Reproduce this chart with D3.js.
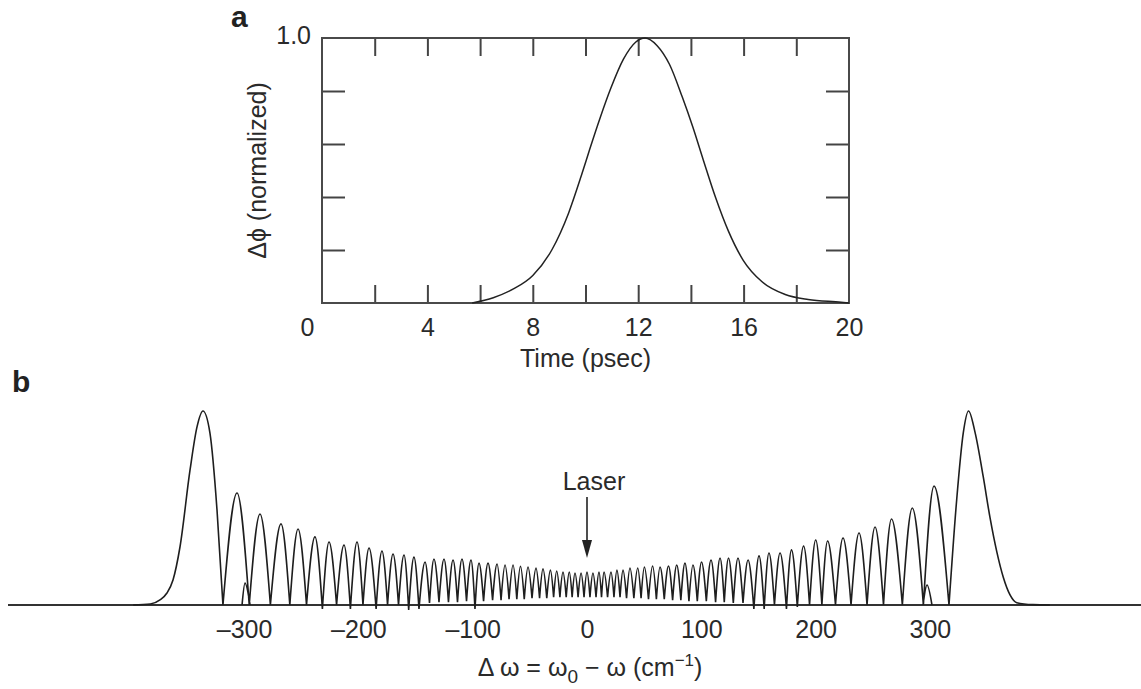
<!DOCTYPE html>
<html>
<head>
<meta charset="utf-8">
<script src="https://cdn.jsdelivr.net/npm/d3@7"></script>
<style>
  body { margin: 0; background: #fff; }
  svg { display: block; font-family: "Liberation Sans", Arial, Helvetica, sans-serif; }
  .tick text { font-size: 25px; fill: #2a2a2a; }
  .lbl { font-size: 25px; fill: #2a2a2a; }
  .panel { font-size: 30px; font-weight: bold; fill: #222; }
</style>
</head>
<body>
<div id="chart"></div>
<script>
// ---- panel a: normalized phase vs time ----
const timePs    = [5.7, 6.5, 7.3, 8.0, 8.72, 9.36, 9.84, 10.16, 10.56, 10.96, 11.44, 11.91, 12.26,
                   12.71, 13.19, 13.67, 14.07, 14.47, 14.94, 15.42, 15.98, 16.7, 17.58, 18.45, 19.7, 20];
const phaseNorm = [0, 0.02, 0.055, 0.104, 0.2, 0.34, 0.48, 0.58, 0.7, 0.81, 0.92, 0.985, 1.0,
                   0.972, 0.9, 0.778, 0.665, 0.54, 0.397, 0.272, 0.162, 0.08, 0.032, 0.013, 0.003, 0];
const xLabelsA = [0, 4, 8, 12, 16, 20];
const xMinorA = [2, 4, 6, 8, 10, 12, 14, 16, 18];
const yMinorA = [0.2, 0.4, 0.6, 0.8];

// ---- panel b: SPM spectrum ----
// outer (largest) lobes
const mainLeftW  = [-397, -382, -373.6, -367.5, -362.2, -356.1, -347.3, -341.2, -336, -329.9, -323.7, -318.5];
const mainLeftI  = [0, 0.005, 0.026, 0.062, 0.129, 0.299, 0.696, 0.918, 1.0, 0.887, 0.49, 0];
const mainRightW = [316.7, 323.4, 329.2, 333.8, 339.5, 346.7, 352.6, 358.5, 364.2, 370.1, 376, 390.2, 405];
const mainRightI = [0, 0.54, 0.887, 1.0, 0.89, 0.66, 0.45, 0.275, 0.143, 0.052, 0.012, 0.002, 0];

// inner peaks
const peakW = [-306.2, -286.1, -267.7, -252.8, -238.0, -225.7, -212.6, -201.2, -190.7, -179.4, -169.7, -160.1,
  -151.4, -141.7, -133.9, -125.1, -117.2, -109.4, -101.5, -94.5, -86.6, -78.7, -71.7, -64.7, -58.2, -51.6,
  -44.6, -38.5, -32, -26.5, -21, -15.5, -10.5, -5.2, 0, 5.2, 10.5, 14.9, 21.0, 26.2, 31.5, 37.6, 44.4, 50.2,
  57.4, 63.9, 71.3, 78.5, 85.7, 92.7, 100.2, 108.5, 116.4, 123.8, 132.1, 140.9, 150.5, 159.2, 168.9, 178.9,
  189.5, 200.1, 210.5, 224, 238, 252, 266.4, 284.6, 303.6];
const peakI = [0.577, 0.469, 0.418, 0.392, 0.351, 0.325, 0.309, 0.325, 0.294, 0.278, 0.263, 0.258,
  0.247, 0.222, 0.237, 0.237, 0.232, 0.237, 0.232, 0.216, 0.216, 0.211, 0.206, 0.206, 0.2, 0.196,
  0.19, 0.186, 0.18, 0.175, 0.17, 0.17, 0.165, 0.165, 0.17, 0.165, 0.17, 0.17, 0.17, 0.18, 0.18, 0.191, 0.191, 0.196,
  0.201, 0.196, 0.201, 0.206, 0.216, 0.206, 0.222, 0.232, 0.242, 0.242, 0.242, 0.232, 0.253, 0.268, 0.268, 0.284,
  0.304, 0.335, 0.33, 0.345, 0.371, 0.402, 0.443, 0.5, 0.613];

// minima between peaks
const valleyW = [-318.5, -295.5, -277, -260, -245.4, -231.5, -219.1, -207, -196, -184.5, -174.5, -164.9, -156,
  -147, -137.8, -129.5, -121.2, -113.3, -105.4, -98, -90.5, -82.6, -75.2, -68.2, -61.4, -54.9, -48.1,
  -41.5, -35.2, -29.2, -23.7, -18.2, -13, -7.8, -2.6, 2.6, 7.9, 12.7, 18, 23.6, 28.9, 34.6, 41, 47.3, 53.8,
  60.7, 67.6, 74.9, 82.1, 89.2, 96.5, 104.4, 112.5, 120.1, 128, 136.5, 146, 155, 164, 174.5, 184,
  194.7, 205.5, 217.4, 231, 245, 259.4, 275.9, 294.3, 316.7];
const valleyI = [0, 0, 0, 0, 0, -0.02, 0, -0.02, 0, -0.02, 0, 0, -0.025,
  -0.02, 0.01, 0.015, 0.015, 0.015, 0.02, -0.02, 0.02, 0.025, 0.025, 0.03, 0.03, 0.03, 0.035,
  0.035, 0.035, 0.04, 0.04, 0.04, 0.04, 0.04, 0.04, 0.04, 0.04, 0.04, 0.04, 0.04, 0.04, 0.035, 0.035, 0.035, 0.03,
  0.03, 0.03, 0.025, 0.025, 0.02, 0.02, 0.02, 0.015, 0.015, 0.01, 0.01, -0.02, -0.02, 0, -0.02, -0.01,
  0, 0, 0, 0, 0, 0, 0, 0, 0];

// two small side bumps near +-300
const bumpLeftW  = [-301.8, -299.2, -294.8];
const bumpLeftI  = [0, 0.113, 0];
const bumpRightW = [294, 297.5, 301.8];
const bumpRightI = [0, 0.103, 0];

const xTicksB = [-300, -200, -100, 0, 100, 200, 300];

const W = 1141, H = 689;
const svg = d3.select("#chart").append("svg")
    .attr("width", W)
    .attr("height", H);

// ================= panel a =================
const xA = d3.scaleLinear().domain([0, 20]).range([322, 849]);
const yA = d3.scaleLinear().domain([0, 1]).range([303, 38]);
const gA = svg.append("g");

// inward ticks on all four sides
gA.append("g").attr("transform", `translate(0,${yA(0)})`)
    .call(d3.axisBottom(xA).tickValues(xMinorA).tickSize(-18).tickFormat(""));
gA.append("g").attr("transform", `translate(0,${yA(1)})`)
    .call(d3.axisTop(xA).tickValues(xMinorA).tickSize(-18).tickFormat(""));
gA.append("g").attr("transform", `translate(${xA(0)},0)`)
    .call(d3.axisLeft(yA).tickValues(yMinorA).tickSize(-23).tickFormat(""));
gA.append("g").attr("transform", `translate(${xA(20)},0)`)
    .call(d3.axisRight(yA).tickValues(yMinorA).tickSize(-23).tickFormat(""));
gA.selectAll(".domain").remove();
gA.selectAll(".tick line").attr("stroke", "#444").attr("stroke-width", 2);

// tick labels
const axA = gA.append("g").attr("transform", `translate(0,${yA(0)})`)
    .call(d3.axisBottom(xA).tickValues(xLabelsA).tickSize(0).tickPadding(15));
axA.select(".domain").remove();
axA.selectAll(".tick text").filter(d => d === 0).attr("dx", -15);

// frame
gA.append("rect")
    .attr("x", xA(0)).attr("y", yA(1))
    .attr("width", xA(20) - xA(0)).attr("height", yA(0) - yA(1))
    .attr("fill", "none").attr("stroke", "#4a4a4a").attr("stroke-width", 2);

gA.append("text").attr("class", "lbl")
    .attr("x", xA(0) - 11).attr("y", yA(1) + 6)
    .attr("text-anchor", "end")
    .text("1.0");

gA.append("path")
    .datum(timePs.map((t, i) => [t, phaseNorm[i]]))
    .attr("fill", "none")
    .attr("stroke", "#222")
    .attr("stroke-width", 1.5)
    .attr("d", d3.line().x(d => xA(d[0])).y(d => yA(d[1])).curve(d3.curveMonotoneX));

gA.append("text").attr("class", "lbl")
    .attr("x", (xA(0) + xA(20)) / 2).attr("y", 367)
    .attr("text-anchor", "middle")
    .text("Time (psec)");

gA.append("text").attr("class", "lbl")
    .attr("transform", `translate(266,${(yA(0) + yA(1)) / 2}) rotate(-90)`)
    .attr("text-anchor", "middle")
    .attr("fill", "#444")
    .text("Δϕ (normalized)");

svg.append("text").attr("class", "panel").attr("x", 231).attr("y", 27).text("a");

// ================= panel b =================
const xB = d3.scaleLinear().domain([-300, 300]).range([244.1, 929.9]);
const yB = d3.scaleLinear().domain([0, 1]).range([605, 411]);
const gB = svg.append("g");

// baseline across the full width
gB.append("line")
    .attr("x1", 8).attr("x2", W)
    .attr("y1", yB(0)).attr("y2", yB(0))
    .attr("stroke", "#333").attr("stroke-width", 1.8);

const axB = gB.append("g").attr("transform", `translate(0,${yB(0)})`)
    .call(d3.axisBottom(xB).tickValues(xTicksB).tickSize(0).tickPadding(15)
        .tickFormat(d => d < 0 ? "–" + Math.abs(d) : String(d)));
axB.select(".domain").remove();

// build lobes: valley - peak - valley
const lineB = d3.line().x(d => xB(d[0])).y(d => yB(d[1])).curve(d3.curveMonotoneX);
const pts = peakW.map((w, i) => ({ w, v: peakI[i], peak: true }))
    .concat(valleyW.map((w, i) => ({ w, v: valleyI[i], peak: false })))
    .sort((a, b) => a.w - b.w);
const lobes = [];
lobes.push(mainLeftW.map((w, i) => [w, mainLeftI[i]]));
pts.forEach((p, i) => {
    if (p.peak && i > 0 && i < pts.length - 1) {
        lobes.push([[pts[i - 1].w, pts[i - 1].v], [p.w, p.v], [pts[i + 1].w, pts[i + 1].v]]);
    }
});
lobes.push(mainRightW.map((w, i) => [w, mainRightI[i]]));
lobes.push(bumpLeftW.map((w, i) => [w, bumpLeftI[i]]));
lobes.push(bumpRightW.map((w, i) => [w, bumpRightI[i]]));

gB.append("path")
    .attr("fill", "none")
    .attr("stroke", "#1e1e1e")
    .attr("stroke-width", 1.6)
    .attr("stroke-linejoin", "round")
    .attr("d", lobes.map(l => lineB(l)).join(""));

// laser marker
const laserX = xB(0);
gB.append("line")
    .attr("x1", laserX).attr("x2", laserX)
    .attr("y1", 497).attr("y2", 545)
    .attr("stroke", "#222").attr("stroke-width", 1.6);
gB.append("path")
    .attr("d", `M${laserX - 5},540 L${laserX + 5},540 L${laserX},558 Z`)
    .attr("fill", "#222");
gB.append("text").attr("class", "lbl")
    .attr("x", laserX + 7).attr("y", 490)
    .attr("text-anchor", "middle")
    .text("Laser");

// x axis title
const tB = gB.append("text").attr("class", "lbl")
    .attr("x", 590).attr("y", 676)
    .attr("text-anchor", "middle");
tB.append("tspan").text("Δ ω = ω");
tB.append("tspan").attr("dy", 7).attr("font-size", 19).text("0");
tB.append("tspan").attr("dy", -7).text(" − ω (cm");
tB.append("tspan").attr("dy", -10).attr("font-size", 17).text("−1");
tB.append("tspan").attr("dy", 10).text(")");

svg.append("text").attr("class", "panel").attr("x", 12).attr("y", 392).text("b");
</script>
</body>
</html>
